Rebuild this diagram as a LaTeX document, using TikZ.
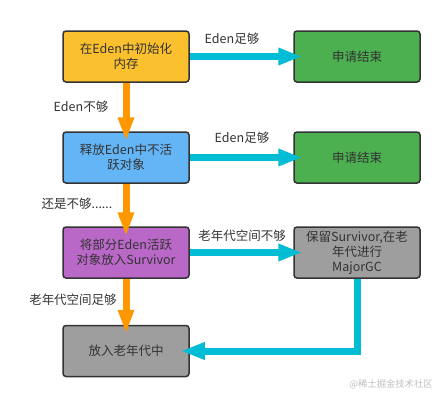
\documentclass[tikz,border=0pt]{standalone}
\usepackage{fontspec}
\setmainfont{Noto Sans CJK SC}
\usepackage{tikz}
\usetikzlibrary{positioning,arrows.meta}
\definecolor{boxyellow}{HTML}{FBC02D}
\definecolor{boxgreen}{HTML}{4CAF50}
\definecolor{boxblue}{HTML}{64B5F6}
\definecolor{boxpurple}{HTML}{BA68C8}
\definecolor{boxgray}{HTML}{9E9E9E}
\definecolor{flowcyan}{HTML}{00BCD4}
\definecolor{floworange}{HTML}{FF9800}
\definecolor{txtgray}{HTML}{333333}

\begin{document}
\begin{tikzpicture}[x=1pt,y=-1pt,
  box/.style={draw=txtgray,line width=1.5pt,rounded corners=3pt,minimum width=126pt,minimum height=51pt,
    inner sep=0pt,align=center,text=txtgray,font=\fontsize{12.5}{15}\selectfont},
  lbl/.style={text=txtgray,font=\fontsize{12.5}{15}\selectfont},
  yes/.style={flowcyan,line width=7pt,-{Triangle[length=24pt,width=16pt]}},
  no/.style={floworange,line width=7pt,-{Triangle[length=24pt,width=15pt]}}]
\useasboundingbox (0,0) rectangle (445,402);
\node[box,fill=boxyellow] (init) at (126,56.5) {在Eden中初始化\\内存};
\node[box,fill=boxgreen] (done1) at (357,56.5) {申请结束};
\node[box,fill=boxblue] (free) at (126,157.5) {释放Eden中不活\\跃对象};
\node[box,fill=boxgreen] (done2) at (357,157.5) {申请结束};
\node[box,fill=boxpurple] (surv) at (126,252.5) {将部分Eden活跃\\对象放入Survivor};
\node[box,fill=boxgray] (major) at (357,252.5) {保留Survivor,在老\\年代进行\\MajorGC};
\node[box,fill=boxgray] (old) at (126,351) {放入老年代中};
\draw[yes] (init.east) -- ([xshift=9pt]done1.west);
\draw[yes] (free.east) -- ([xshift=9pt]done2.west);
\draw[yes] (surv.east) -- ([xshift=9pt]major.west);
\draw[yes] (major.south) |- ([xshift=-9pt]old.east);
\draw[no] (init.south) -- ([yshift=-10pt]free.north);
\draw[no] (free.south) -- ([yshift=-10pt]surv.north);
\draw[no] (surv.south) -- ([yshift=-9pt]old.north);
\node[lbl] (l1) at (232,39) {Eden足够};
\node[lbl] (l2) at (242,138) {Eden足够};
\node[lbl] (l3) at (81,107) {Eden不够};
\node[lbl] (l4) at (77,204) {还是不够......};
\node[lbl] (l5) at (242,236) {老年代空间不够};
\node[lbl] (l6) at (73,300) {老年代空间足够};
\node[text=black!25,font=\fontsize{9.3}{11}\selectfont] (mark) at (391,384) {@稀土掘金技术社区};
\end{tikzpicture}
\end{document}
